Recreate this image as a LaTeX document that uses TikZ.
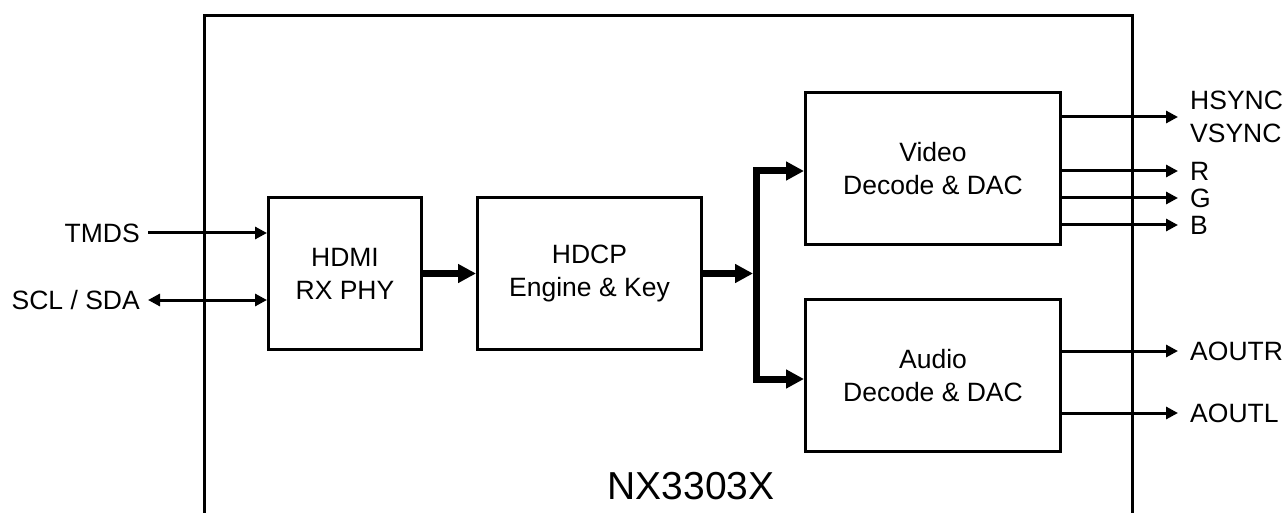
\documentclass[tikz,border=0pt]{standalone}
\usepackage{fontspec}
\setmainfont{Liberation Sans}
\usetikzlibrary{arrows.meta}
\begin{document}
\begin{tikzpicture}[x=1pt,y=-1pt,
  txt/.style={inner sep=0pt, font=\fontsize{26.5}{33}\selectfont},
  blk/.style={draw, line width=3pt, inner sep=0pt, align=center,
    minimum width=#1, minimum height=152pt,
    font=\fontsize{26.5}{33}\selectfont},
  sig/.style={line width=3pt, -{Triangle[length=12pt,width=12pt]}},
  sigboth/.style={line width=3pt, {Triangle[length=12pt,width=12pt]}-{Triangle[length=12pt,width=12pt]}},
  data/.style={line width=7pt, -{Triangle[length=18pt,width=18pt]}},
  databoth/.style={line width=7pt, {Triangle[length=18pt,width=18pt]}-{Triangle[length=18pt,width=18pt]}},
  frame/.style={line width=3pt}]
\useasboundingbox (0,0) rectangle (1288,513);

% chip outline, open at the bottom
\draw[frame] (204.5,530) -- (204.5,16) -- (1132.5,16) -- (1132.5,530);
\node[inner sep=0pt, font=\fontsize{39}{44}\selectfont] (chip) at (691,486) {NX3303X};

% functional blocks
\node[blk=153pt] (hdmi)  at (345,273.5)   {HDMI\\RX PHY};
\node[blk=224pt] (hdcp)  at (589.5,273.5) {HDCP\\Engine \& Key};
\node[blk=255pt] (video) at (933,169)     {Video\\Decode \& DAC};
\node[blk=255pt] (audio) at (933,375.5)   {Audio\\Decode \& DAC};

% pin labels
\node[txt, anchor=east] (tmds) at (140,233) {TMDS};
\node[txt, anchor=east] (scl)  at (140,300) {SCL / SDA};
\node[txt, anchor=west, align=left] (sync) at (1190,117) {HSYNC\\VSYNC};
\node[txt, anchor=west] (r) at (1190,171) {R};
\node[txt, anchor=west] (g) at (1190,198) {G};
\node[txt, anchor=west] (b) at (1190,225) {B};
\node[txt, anchor=west] (aoutr) at (1190,351) {AOUTR};
\node[txt, anchor=west] (aoutl) at (1190,413) {AOUTL};

% internal bus
\coordinate (busin)  at (753,273.5);
\coordinate (bustop) at (756.5,171);
\coordinate (busbot) at (756.5,379);

% inputs
\draw[sig]     ([xshift=8pt]tmds.east) -- (tmds.east -| hdmi.west);
\draw[sigboth] ([xshift=8pt]scl.east)  -- (scl.east -| hdmi.west);

% data path
\draw[data] (hdmi.east) -- (hdcp.west);
\draw[data] (hdcp.east) -- (busin);
\draw[databoth] (video.west |- bustop) -- (bustop) -- (busbot) -- (audio.west |- busbot);

% outputs
\draw[sig] (video.east |- sync.west) -- ([xshift=-12pt]sync.west);
\draw[sig] (video.east |- r.west) -- ([xshift=-12pt]r.west);
\draw[sig] (video.east |- g.west) -- ([xshift=-12pt]g.west);
\draw[sig] (video.east |- b.west) -- ([xshift=-12pt]b.west);
\draw[sig] (audio.east |- aoutr.west) -- ([xshift=-12pt]aoutr.west);
\draw[sig] (audio.east |- aoutl.west) -- ([xshift=-12pt]aoutl.west);
\end{tikzpicture}
\end{document}
